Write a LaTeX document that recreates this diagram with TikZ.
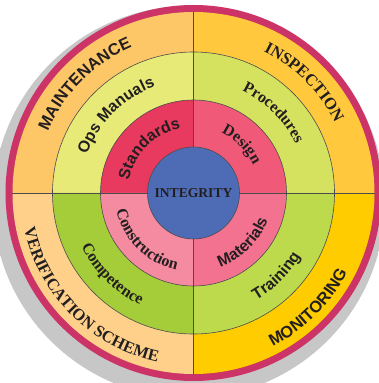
\documentclass[tikz,border=0pt]{standalone}
\usepackage{fontspec}
\setmainfont{Liberation Serif}
\setsansfont{Liberation Sans}
\usetikzlibrary{decorations.text}
\definecolor{rim}{RGB}{204, 51, 102}
\definecolor{mo}{RGB}{253, 198, 103}
\definecolor{io}{RGB}{255, 200, 61}
\definecolor{vo}{RGB}{255, 208, 138}
\definecolor{no}{RGB}{255, 204, 0}
\definecolor{mm}{RGB}{232, 234, 120}
\definecolor{im}{RGB}{212, 226, 95}
\definecolor{vm}{RGB}{165, 205, 57}
\definecolor{nm}{RGB}{189, 218, 76}
\definecolor{mi}{RGB}{232, 57, 94}
\definecolor{ii}{RGB}{240, 90, 120}
\definecolor{vi}{RGB}{244, 139, 160}
\definecolor{ni}{RGB}{242, 114, 144}
\definecolor{core}{RGB}{78, 108, 181}
\definecolor{ink}{RGB}{35, 31, 32}
\pgfdeclareradialshading{rimshadow}{\pgfpoint{0bp}{0bp}}{color(0bp)=(black!22); color(46.4bp)=(black!22); color(50bp)=(white)}
\newcommand\outersans{\sffamily\bfseries\fontsize{16.5}{17}\selectfont}
\newcommand\outerserif{\rmfamily\bfseries\fontsize{16.5}{17}\selectfont}
\newcommand\ringsans{\sffamily\bfseries\fontsize{16}{17}\selectfont}
\newcommand\ringserif{\rmfamily\bfseries\fontsize{16}{17}\selectfont}

\begin{document}
\begin{tikzpicture}[
  sepline/.style={line width=0.6pt, draw=black!70},
  arctext/.style={decorate, decoration={text along path, text align=center, text color=ink, text={#1}}}
]
\useasboundingbox (0pt, 0pt) rectangle (378pt, 383pt);
\fill[white] (0pt, 0pt) rectangle (378pt, 383pt);
\coordinate (c) at (193.5pt, 190pt);
\coordinate (s) at (189pt, 181pt);
% shadow and rim
\shade[shading=rimshadow] (s) circle (196pt);
\fill[rim] (c) circle (188pt);
% outer quadrants
\fill[io] (c) -- ++(0:181pt) arc (0:90:181pt) -- cycle;
\fill[mo] (c) -- ++(90:181pt) arc (90:180:181pt) -- cycle;
\fill[vo] (c) -- ++(180:181pt) arc (180:270:181pt) -- cycle;
\fill[no] (c) -- ++(270:181pt) arc (270:360:181pt) -- cycle;
% middle ring
\fill[im] (c) -- ++(0:141pt) arc (0:90:141pt) -- cycle;
\fill[mm] (c) -- ++(90:141pt) arc (90:180:141pt) -- cycle;
\fill[vm] (c) -- ++(180:141pt) arc (180:270:141pt) -- cycle;
\fill[nm] (c) -- ++(270:141pt) arc (270:360:141pt) -- cycle;
% inner ring
\fill[ii] (c) -- ++(0:93pt) arc (0:90:93pt) -- cycle;
\fill[mi] (c) -- ++(90:93pt) arc (90:180:93pt) -- cycle;
\fill[vi] (c) -- ++(180:93pt) arc (180:270:93pt) -- cycle;
\fill[ni] (c) -- ++(270:93pt) arc (270:360:93pt) -- cycle;
\draw[sepline] (c) circle (141pt);
\draw[sepline] (c) circle (93pt);
\node (integrity) [circle, minimum size=92pt, inner sep=0pt, fill=core, sepline, font=\rmfamily\bfseries\fontsize{13.6}{14}\selectfont, text=ink] at (c) {INTEGRITY};
\draw[sepline] (integrity.north) -- ++(0pt, 135pt);
\draw[sepline] (integrity.south) -- ++(0pt, -135pt);
\draw[sepline] (integrity.west) -- ++(-135pt, 0pt);
\draw[sepline] (integrity.east) -- ++(135pt, 0pt);
% labels on the outer ring
\path[arctext={|\outersans|MAINTENANCE}] (c) ++(178:158pt) arc (178:92:158pt);
\path[arctext={|\outerserif|INSPECTION}] (c) ++(88:158pt) arc (88:2:158pt);
\path[arctext={|\outerserif|VERIFICATION SCHEME}] (c) ++(182:173pt) arc (182:268:173pt);
\path[arctext={|\outersans|MONITORING}] (c) ++(272:173pt) arc (272:358:173pt);
% labels on the middle ring
\path[arctext={|\ringsans|Ops Manuals}] (c) ++(178:113pt) arc (178:92:113pt);
\path[arctext={|\ringserif|Procedures}] (c) ++(88:113pt) arc (88:2:113pt);
\path[arctext={|\ringserif|Competence}] (c) ++(182:124pt) arc (182:268:124pt);
\path[arctext={|\ringsans|Training}] (c) ++(272:124pt) arc (272:358:124pt);
% labels on the inner ring
\path[arctext={|\ringsans|Standards}] (c) ++(178:66pt) arc (178:92:66pt);
\path[arctext={|\ringserif|Design}] (c) ++(88:66pt) arc (88:2:66pt);
\path[arctext={|\ringserif|Construction}] (c) ++(182:79pt) arc (182:268:79pt);
\path[arctext={|\ringsans|Materials}] (c) ++(272:79pt) arc (272:358:79pt);
\end{tikzpicture}
\end{document}
